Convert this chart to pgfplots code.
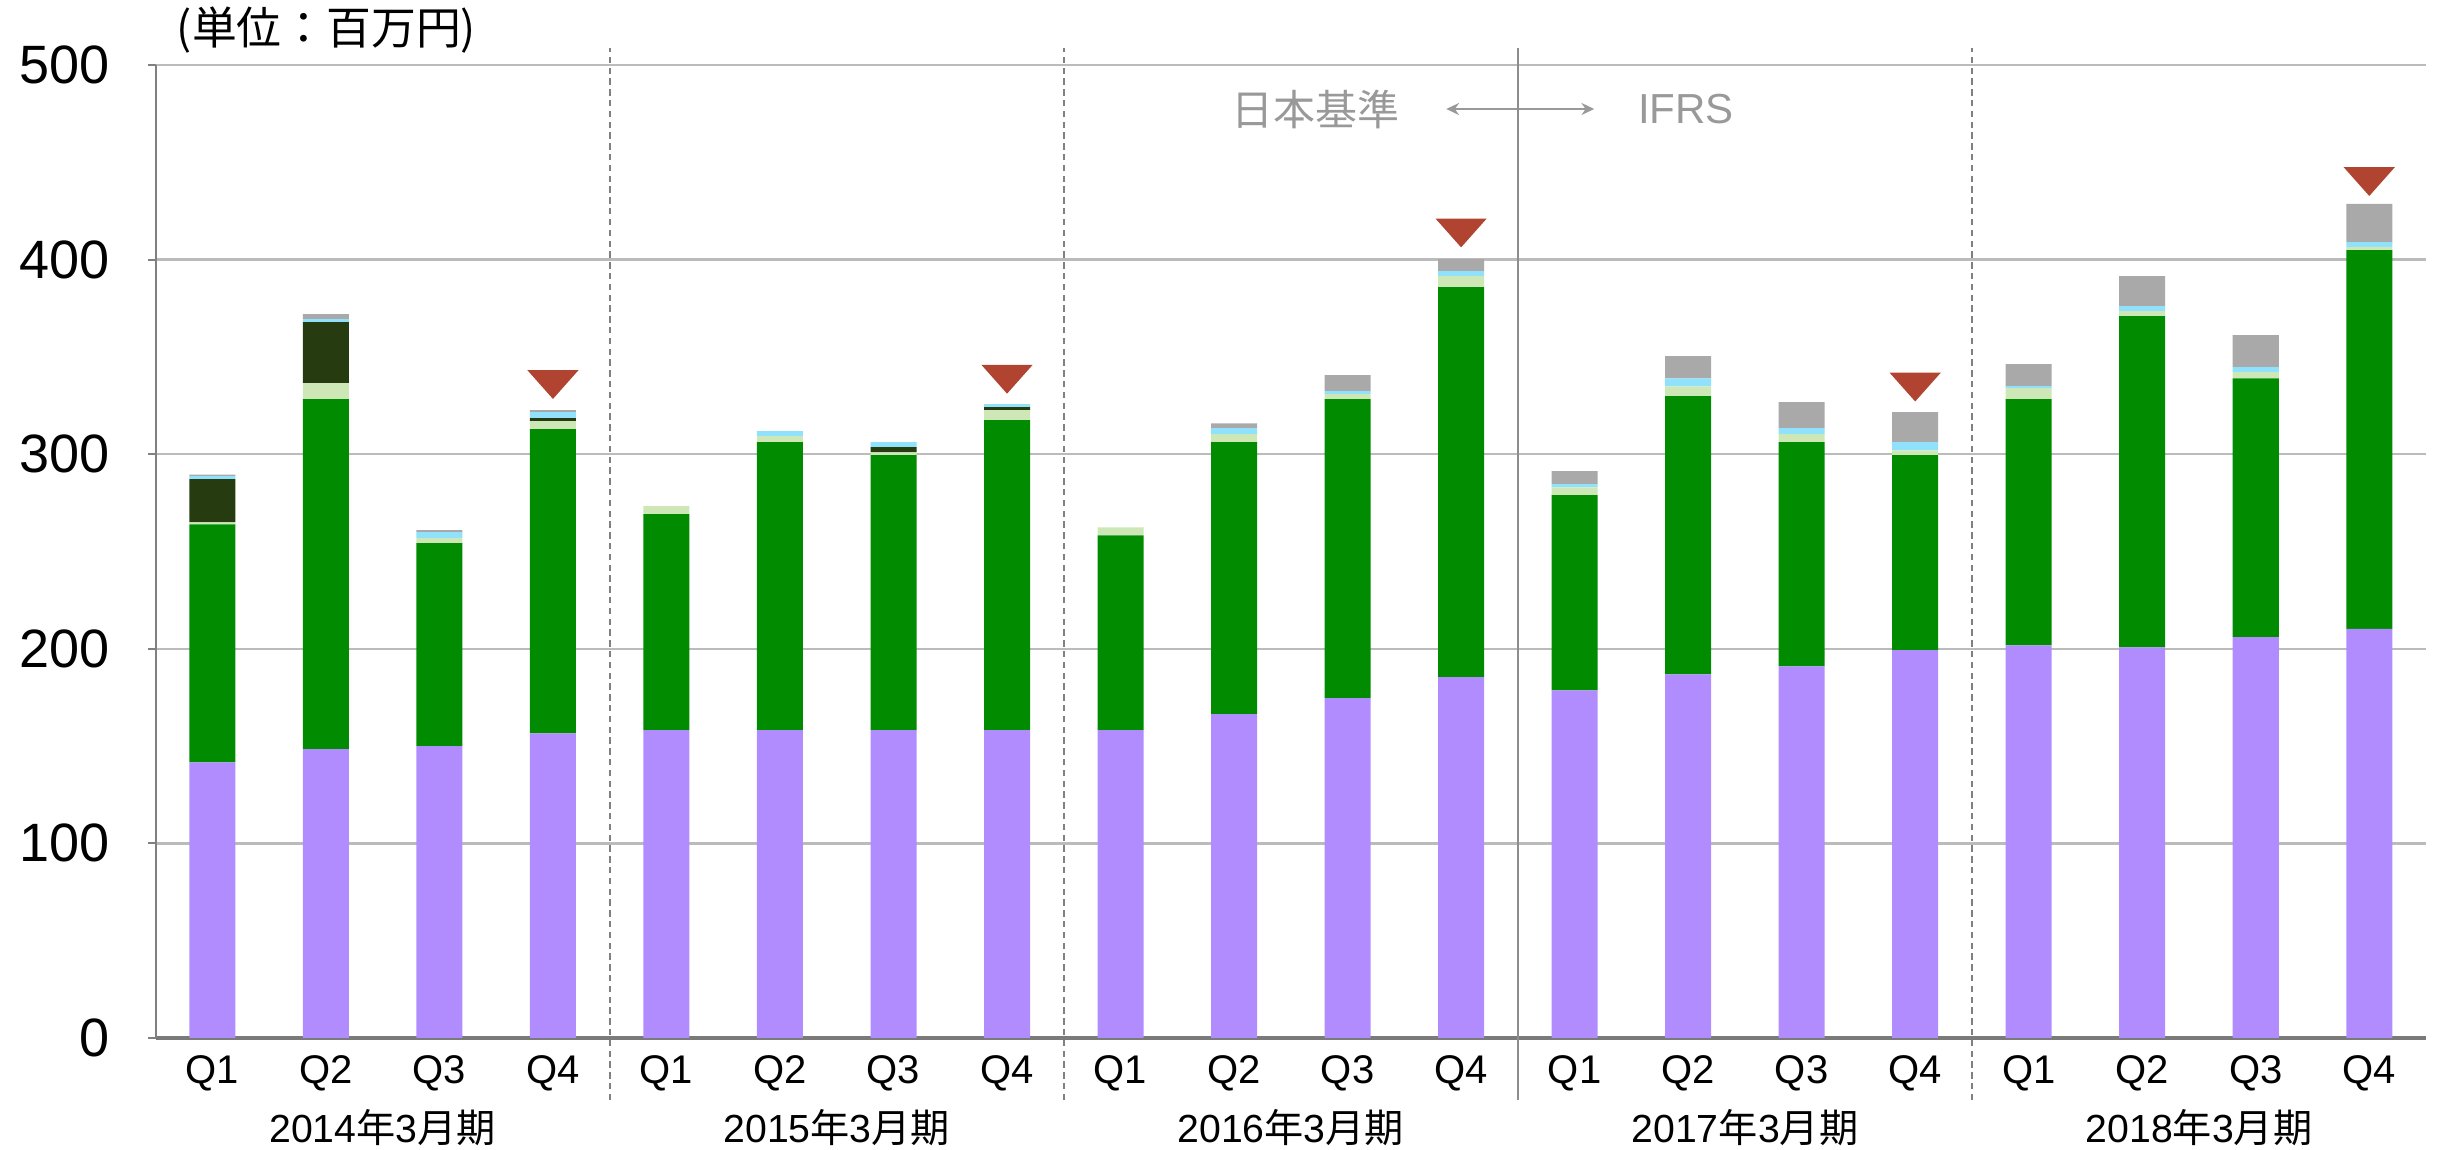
\documentclass[border=0pt]{standalone}
\usepackage{fontspec}
\setmainfont{Liberation Sans}
\newfontfamily\cjk{Noto Sans CJK JP}
\usepackage{pgfplots}
\pgfplotsset{compat=1.18}
\usepackage{pgfplotstable}
\usetikzlibrary{arrows.meta}

\definecolor{cpur}{HTML}{B08CFF}
\definecolor{cgrn}{HTML}{008B00}
\definecolor{clgr}{HTML}{CDE8B6}
\definecolor{cdgr}{HTML}{263C10}
\definecolor{ccya}{HTML}{8FE1FC}
\definecolor{cgry}{HTML}{A9A9A9}
\definecolor{ctri}{HTML}{B04431}
\definecolor{gridgray}{HTML}{BBBBBB}
\definecolor{axisgray}{HTML}{808080}
\definecolor{txtgray}{HTML}{999999}

\pgfdeclareplotmark{dtri}{%
  \pgfpathmoveto{\pgfqpoint{-6.4pt}{3.6pt}}%
  \pgfpathlineto{\pgfqpoint{6.4pt}{3.6pt}}%
  \pgfpathlineto{\pgfqpoint{0pt}{-3.6pt}}%
  \pgfpathclose\pgfusepathqfill}

\pgfplotstableread{
x P G LG DG C Gr
0 141.7 122.3 1.0 22.2 1.5 0.8
1 148.4 179.9 8.2 31.4 1.5 2.6
2 150.0 104.3 2.7 0 3.0 1.0
3 156.6 156.3 4.1 1.5 3.1 1.0
4 158.2 111.0 4.1 0 0 0
5 158.2 148.0 3.1 0 2.6 0
6 158.2 141.3 1.5 2.6 2.6 0
7 158.2 159.3 5.1 1.6 1.5 0
8 158.2 100.1 4.1 0 0 0
9 166.4 139.8 4.1 0 3.1 2.4
10 174.6 153.7 2.6 0 1.5 8.2
11 185.4 200.5 5.6 0 2.6 6.2
12 178.7 100.3 4.0 0 1.6 6.7
13 186.9 142.9 5.1 0 4.1 11.4
14 191.0 115.2 4.1 0 3.1 13.4
15 199.3 100.2 2.5 0 4.2 15.4
16 201.8 126.5 5.7 0 1.0 11.3
17 200.8 170.2 2.5 0 2.6 15.4
18 206.0 133.0 3.2 0 2.6 16.4
19 210.2 194.7 1.6 0 2.5 19.6
}\data

\pgfplotstableread{
x y
3 335.8
7 338.5
11 413.7
15 334.5
19 440.1
}\tri

\begin{document}
\begin{tikzpicture}
\path[use as bounding box] (-38.9pt,-27.8pt) rectangle (570.5pt,259.45pt);
\begin{axis}[
  at={(0,0)}, anchor=south west,
  scale only axis, width=567.5pt, height=243.2pt,
  xmin=-0.5, xmax=19.5, ymin=0, ymax=500,
  ybar stacked, bar width=11.5pt,
  clip=false,
  axis x line*=bottom, axis y line*=left,
  x axis line style={color=axisgray!95!black, line width=1pt},
  y axis line style={color=axisgray, line width=0.5pt},
  ytick={0,100,...,500},
  xtick={0,...,19},
  xticklabels={Q1,Q2,Q3,Q4,Q1,Q2,Q3,Q4,Q1,Q2,Q3,Q4,Q1,Q2,Q3,Q4,Q1,Q2,Q3,Q4},
  minor xtick={0.5,1.5,...,18.5},
  xtick style={draw=none},
  minor x tick style={color=gridgray, line width=0.4pt},
  ytick style={color=axisgray, line width=0.5pt},
  tick align=outside,
  major tick length=1.8pt, minor tick length=1.6pt,
  ymajorgrids, grid style={color=gridgray, line width=0.6pt},
  /pgf/number format/assume math mode=true,
  yticklabel style={font=\fontsize{13.5}{15}\selectfont, anchor=east, inner sep=0pt, xshift=-9.5pt},
  xticklabel style={font=\fontsize{10}{12}\selectfont, anchor=center, inner sep=0pt, yshift=-7pt},
]
\addplot[fill=cpur, draw=none] table[x=x,y=P]{\data};
\addplot[fill=cgrn, draw=none] table[x=x,y=G]{\data};
\addplot[fill=clgr, draw=none] table[x=x,y=LG]{\data};
\addplot[fill=cdgr, draw=none] table[x=x,y=DG]{\data};
\addplot[fill=ccya, draw=none] table[x=x,y=C]{\data};
\addplot[fill=cgry, draw=none] table[x=x,y=Gr]{\data};

\draw[color=axisgray, line width=0.6pt, dash pattern=on 1.6pt off 1.1pt] (axis cs:3.5,-32) -- (axis cs:3.5,508.6);
\draw[color=axisgray, line width=0.6pt, dash pattern=on 1.6pt off 1.1pt] (axis cs:7.5,-32) -- (axis cs:7.5,508.6);
\draw[color=axisgray, line width=0.6pt, dash pattern=on 1.6pt off 1.1pt] (axis cs:15.5,-32) -- (axis cs:15.5,508.6);
\draw[color=axisgray!90, line width=0.55pt] (axis cs:11.5,-32) -- (axis cs:11.5,508.6);

\node[font=\fontsize{9.8}{11}\selectfont] at (axis cs:1.5,-46) {2014{\cjk 年}3{\cjk 月期}};
\node[font=\fontsize{9.8}{11}\selectfont] at (axis cs:5.5,-46) {2015{\cjk 年}3{\cjk 月期}};
\node[font=\fontsize{9.8}{11}\selectfont] at (axis cs:9.5,-46) {2016{\cjk 年}3{\cjk 月期}};
\node[font=\fontsize{9.8}{11}\selectfont] at (axis cs:13.5,-46) {2017{\cjk 年}3{\cjk 月期}};
\node[font=\fontsize{9.8}{11}\selectfont] at (axis cs:17.5,-46) {2018{\cjk 年}3{\cjk 月期}};

\node[font=\cjk\fontsize{11.2}{13}\selectfont] at (axis cs:1.005,518) {(単位：百万円)};
\node[font=\cjk\fontsize{10.5}{12}\selectfont, text=txtgray] at (axis cs:9.717,477.4) {日本基準};
\node[font=\fontsize{10.5}{12}\selectfont, text=txtgray] at (axis cs:12.98,477.4) {IFRS};
\draw[color=txtgray, line width=0.5pt, {Stealth[length=3.2pt,width=3pt]}-{Stealth[length=3.2pt,width=3pt]}] (axis cs:10.869,477.4) -- (axis cs:12.173,477.4);
\end{axis}
\begin{axis}[
  at={(0,0)}, anchor=south west,
  scale only axis, width=567.5pt, height=243.2pt,
  xmin=-0.5, xmax=19.5, ymin=0, ymax=500,
  hide axis, clip=false,
]
\addplot[only marks, mark=dtri, color=ctri] table[x=x,y=y]{\tri};
\end{axis}
\end{tikzpicture}
\end{document}
